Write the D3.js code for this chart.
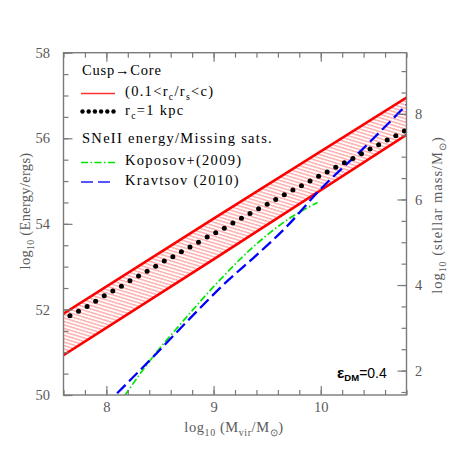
<!DOCTYPE html>
<html>
<head>
<meta charset="utf-8">
<script src="https://cdn.jsdelivr.net/npm/d3@7"></script>
<style>
  body { margin: 0; background: #fff; }
</style>
</head>
<body>
<svg id="chart" width="458" height="458"></svg>
<script>
// ---- values ----
// cusp->core band (0.1 < rc/rs < c)
var bandX     = [7.6, 9.0, 10.8];
var bandUpper = [51.9, 54.12, 56.95];
var bandLower = [50.93, 53.17, 56.08];

// rc = 1 kpc dots
var coreX = [7.66, 7.74, 7.82, 7.90, 7.98, 8.06, 8.14, 8.22, 8.30, 8.38,
             8.46, 8.54, 8.62, 8.70, 8.78, 8.86, 8.94, 9.02, 9.10, 9.18,
             9.26, 9.34, 9.42, 9.50, 9.58, 9.66, 9.74, 9.82, 9.90, 9.98,
             10.06, 10.14, 10.22, 10.30, 10.38, 10.46, 10.54, 10.62, 10.70, 10.78];
var coreE = [51.85, 51.96, 52.07, 52.19, 52.32, 52.43, 52.54, 52.67, 52.78, 52.89,
             53.01, 53.13, 53.23, 53.35, 53.46, 53.57, 53.69, 53.79, 53.90, 54.02,
             54.13, 54.24, 54.35, 54.46, 54.57, 54.68, 54.79, 54.89, 55.00, 55.11,
             55.21, 55.32, 55.43, 55.53, 55.64, 55.75, 55.85, 55.96, 56.06, 56.17];

// SNeII energy / missing satellites
var koposovX = [8.17, 8.33, 8.50, 8.62, 8.81, 8.97, 9.14, 9.25, 9.53, 9.71, 9.97];
var koposovE = [49.98, 50.55, 51.10, 51.45, 52.00, 52.45, 52.90, 53.18, 53.80, 54.13, 54.50];
var kravtsovX = [8.10, 8.44, 8.78, 9.14, 9.37, 9.68, 9.99, 10.40, 10.8];
var kravtsovE = [50.04, 50.90, 51.79, 52.69, 53.20, 53.93, 54.79, 55.77, 56.78];

// axes
var xTicks = [8, 9, 10];
var yTicks = [50, 52, 54, 56, 58];
var mstarTicks = [2, 4, 6, 8];
var mstarOffset = 48.57;   // log10 M* = log10 E - offset
var epsText = '0.4';

drawFigure();

function drawFigure() {
  // layout
  var pl = 63.5, pr = 406.5, pt = 52.7, pb = 395;
  var grey = '#7a7a7a', labelGrey = '#5a5a5a';
  var serif = '"Liberation Serif", "Times New Roman", serif';

  var svg = d3.select('#chart');

  var x = d3.scaleLinear().domain([7.6, 10.8]).range([pl, pr]);
  var y = d3.scaleLinear().domain([50, 58]).range([pb, pt]);
  var y2 = d3.scaleLinear().domain([50 - mstarOffset, 58 - mstarOffset]).range([pb, pt]);

  var defs = svg.append('defs');
  defs.append('clipPath').attr('id', 'plot-clip')
    .append('rect')
      .attr('x', pl).attr('y', pt)
      .attr('width', pr - pl).attr('height', pb - pt);

  var hatch = defs.append('pattern')
      .attr('id', 'hatch')
      .attr('patternUnits', 'userSpaceOnUse')
      .attr('width', 10).attr('height', 3.3)
      .attr('patternTransform', 'rotate(17)');
  hatch.append('line')
      .attr('x1', 0).attr('x2', 10).attr('y1', 1.6).attr('y2', 1.6)
      .attr('stroke', '#ff7070').attr('stroke-width', 0.85);

  // text with subscripts, parts = [[string, isSub], ...]
  function addRich(sel, parts, size) {
    var shift = 0;
    parts.forEach(function(p) {
      var want = p[1] ? size * 0.3 : 0;
      sel.append('tspan')
        .attr('dy', want - shift)
        .attr('font-size', p[1] ? size * 0.68 : size)
        .text(p[0]);
      shift = want;
    });
    return sel;
  }

  // ---- marks ----
  var plot = svg.append('g').attr('clip-path', 'url(#plot-clip)');

  var band = bandX.map(function(d, i) { return {x: d, lo: bandLower[i], hi: bandUpper[i]}; });

  plot.append('path')
      .datum(band)
      .attr('fill', 'url(#hatch)')
      .attr('d', d3.area()
        .x(function(d) { return x(d.x); })
        .y0(function(d) { return y(d.lo); })
        .y1(function(d) { return y(d.hi); }));

  ['lo', 'hi'].forEach(function(k) {
    plot.append('path')
        .datum(band)
        .attr('fill', 'none')
        .attr('stroke', '#ff0000')
        .attr('stroke-width', 2.6)
        .attr('d', d3.line()
          .x(function(d) { return x(d.x); })
          .y(function(d) { return y(d[k]); }));
  });

  var curve = d3.line()
      .curve(d3.curveMonotoneX)
      .x(function(d) { return x(d[0]); })
      .y(function(d) { return y(d[1]); });

  plot.append('path')
      .datum(d3.zip(koposovX, koposovE))
      .attr('fill', 'none')
      .attr('stroke', '#00e600')
      .attr('stroke-width', 1.7)
      .attr('stroke-dasharray', '7,2.5,1.5,2.5')
      .attr('d', curve);

  plot.append('path')
      .datum(d3.zip(kravtsovX, kravtsovE))
      .attr('fill', 'none')
      .attr('stroke', '#0000ff')
      .attr('stroke-width', 2.3)
      .attr('stroke-dasharray', '12,5')
      .attr('d', curve);

  plot.selectAll('.dot')
      .data(d3.zip(coreX, coreE))
    .enter().append('circle')
      .attr('class', 'dot')
      .attr('cx', function(d) { return x(d[0]); })
      .attr('cy', function(d) { return y(d[1]); })
      .attr('r', 2.5)
      .attr('fill', '#000');

  // ---- axes ----
  function styleAxis(g) {
    g.select('.domain').remove();
    g.selectAll('.tick line').attr('stroke', grey).attr('stroke-width', 1.2);
    g.selectAll('.tick text')
      .attr('fill', labelGrey)
      .attr('font-family', serif)
      .attr('font-size', 14.5);
  }

  var xMinor = d3.range(7.6, 10.81, 0.2);
  var yMinor = d3.range(50, 58.01, 0.5);
  var y2Minor = d3.range(1.5, 9.41, 0.5);

  svg.append('g').attr('transform', 'translate(0,' + pb + ')')
    .call(d3.axisBottom(x).tickValues(xMinor).tickSizeInner(-5).tickSizeOuter(0).tickFormat(''))
    .call(styleAxis);
  svg.append('g').attr('transform', 'translate(0,' + pb + ')')
    .call(d3.axisBottom(x).tickValues(xTicks).tickSizeInner(-9).tickSizeOuter(0).tickPadding(6.5)
      .tickFormat(d3.format('d')))
    .call(styleAxis);

  svg.append('g').attr('transform', 'translate(0,' + pt + ')')
    .call(d3.axisTop(x).tickValues(xMinor).tickSizeInner(-5).tickSizeOuter(0).tickFormat(''))
    .call(styleAxis);
  svg.append('g').attr('transform', 'translate(0,' + pt + ')')
    .call(d3.axisTop(x).tickValues(xTicks).tickSizeInner(-9).tickSizeOuter(0).tickFormat(''))
    .call(styleAxis);

  svg.append('g').attr('transform', 'translate(' + pl + ',0)')
    .call(d3.axisLeft(y).tickValues(yMinor).tickSizeInner(-5).tickSizeOuter(0).tickFormat(''))
    .call(styleAxis);
  svg.append('g').attr('transform', 'translate(' + pl + ',0)')
    .call(d3.axisLeft(y).tickValues(yTicks).tickSizeInner(-9).tickSizeOuter(0).tickPadding(13.5)
      .tickFormat(d3.format('d')))
    .call(styleAxis);

  svg.append('g').attr('transform', 'translate(' + pr + ',0)')
    .call(d3.axisRight(y2).tickValues(y2Minor).tickSizeInner(-5).tickSizeOuter(0).tickFormat(''))
    .call(styleAxis);
  svg.append('g').attr('transform', 'translate(' + pr + ',0)')
    .call(d3.axisRight(y2).tickValues(mstarTicks).tickSizeInner(-9).tickSizeOuter(0).tickPadding(8.5)
      .tickFormat(d3.format('d')))
    .call(styleAxis);

  // frame
  svg.append('rect')
      .attr('x', pl).attr('y', pt)
      .attr('width', pr - pl).attr('height', pb - pt)
      .attr('fill', 'none')
      .attr('stroke', grey)
      .attr('stroke-width', 1.4);

  // axis titles
  var xTitle = svg.append('text')
      .attr('x', 234).attr('y', 431.5)
      .attr('text-anchor', 'middle')
      .attr('font-family', serif)
      .attr('fill', labelGrey)
      .attr('letter-spacing', 0.6);
  addRich(xTitle, [['log', 0], ['10', 1], [' (M', 0], ['vir', 1], ['/M', 0], ['\u2299', 1], [')', 0]], 14.5);

  var yTitle = svg.append('text')
      .attr('transform', 'translate(29.5,211) rotate(-90)')
      .attr('text-anchor', 'middle')
      .attr('font-family', serif)
      .attr('fill', labelGrey)
      .attr('letter-spacing', 0.3);
  addRich(yTitle, [['log', 0], ['10', 1], [' (Energy/ergs)', 0]], 14.5);

  var y2Title = svg.append('text')
      .attr('transform', 'translate(441.5,215) rotate(-90)')
      .attr('text-anchor', 'middle')
      .attr('font-family', serif)
      .attr('fill', labelGrey)
      .attr('letter-spacing', 1);
  addRich(y2Title, [['log', 0], ['10', 1], [' (stellar mass/M', 0], ['\u2299', 1], [')', 0]], 14.5);

  // ---- legend ----
  var legend = svg.append('g')
      .attr('font-family', serif)
      .attr('fill', '#000')
      .attr('letter-spacing', 1.3);

  legend.append('text').attr('x', 82).attr('y', 74.5).attr('font-size', 14.5)
      .attr('letter-spacing', 0.8).text('Cusp\u2192Core');

  legend.append('line')
      .attr('x1', 81).attr('x2', 115).attr('y1', 93.5).attr('y2', 93.5)
      .attr('stroke', '#ff3030').attr('stroke-width', 1.6);
  addRich(legend.append('text').attr('x', 125).attr('y', 96),
    [['(0.1<r', 0], ['c', 1], ['/r', 0], ['s', 1], ['<c)', 0]], 14.5);

  legend.selectAll('.ldot')
      .data(d3.range(6))
    .enter().append('circle')
      .attr('class', 'ldot')
      .attr('cx', function(i) { return 82.5 + i * 6.2; })
      .attr('cy', 111.5)
      .attr('r', 2.2)
      .attr('fill', '#000');
  addRich(legend.append('text').attr('x', 125).attr('y', 114.5),
    [['r', 0], ['c', 1], ['=1 kpc', 0]], 14.5);

  legend.append('text').attr('x', 82).attr('y', 142.5).attr('font-size', 14.5)
      .text('SNeII energy/Missing sats.');

  legend.append('line')
      .attr('x1', 81).attr('x2', 115).attr('y1', 162.5).attr('y2', 162.5)
      .attr('stroke', '#00e600').attr('stroke-width', 1.4)
      .attr('stroke-dasharray', '7,2.5,1.5,2.5');
  legend.append('text').attr('x', 125).attr('y', 164.5).attr('font-size', 14.5).text('Koposov+(2009)');

  legend.append('line')
      .attr('x1', 81).attr('x2', 115).attr('y1', 182).attr('y2', 182)
      .attr('stroke', '#2020ff').attr('stroke-width', 1.6)
      .attr('stroke-dasharray', '12,5');
  legend.append('text').attr('x', 125).attr('y', 184.5).attr('font-size', 14.5).text('Kravtsov (2010)');

  // epsilon label
  var eps = svg.append('text')
      .attr('x', 337).attr('y', 377.5)
      .attr('font-family', '"Liberation Sans", Arial, sans-serif')
      .attr('fill', '#000');
  eps.append('tspan').attr('font-size', 15.5).attr('font-weight', 'bold').text('\u03b5');
  eps.append('tspan').attr('font-size', 9.5).attr('font-weight', 'bold').attr('dy', 3).text('DM');
  eps.append('tspan').attr('font-size', 14).attr('dy', -3).text('=' + epsText);
}
</script>
</body>
</html>
